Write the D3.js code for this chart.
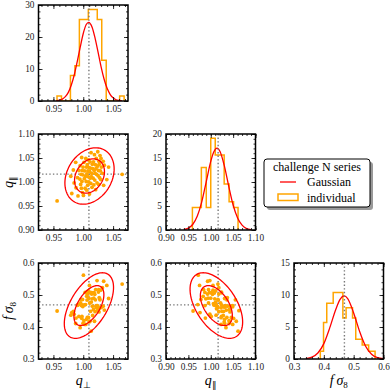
<!DOCTYPE html>
<html>
<head>
<meta charset="utf-8">
<script src="https://cdn.jsdelivr.net/npm/d3@7"></script>
<style>
body { margin: 0; background: #fff; }
text { font-family: "Liberation Serif", serif; }
</style>
</head>
<body>
<div id="chart"></div>
<script>
// ---- data ----
// axis ranges and ticks
const qPerpDomain = [0.925, 1.075];
const qParDomain = [0.90, 1.10];
const fs8Domain = [0.30, 0.60];
const qPerpTicks = [0.95, 1.00, 1.05];
const qParTicks = [0.90, 0.95, 1.00, 1.05, 1.10];
const fs8Ticks = [0.3, 0.4, 0.5, 0.6];
const histPerpTicks = [0, 10, 20, 30];
const histParTicks = [0, 5, 10, 15, 20];
const histFs8Ticks = [0, 5, 10, 15];

// fiducial values (dotted lines)
const fidPerp = 1.0095, fidPar = 1.0165, fidFs8 = 0.469;

// histograms (step, normalised)
const perpEdges = [0.9560, 0.9635, 0.9710, 0.9785, 0.9860, 0.9935, 1.0010, 1.0085, 1.0160, 1.0235, 1.0310, 1.0385, 1.0460, 1.0535, 1.0610, 1.0685];
const perpHist = [1.6, 0, 0, 8.0, 11.0, 25.5, 25.5, 28.6, 28.6, 25.5, 12.7, 0, 0, 0, 1.6];
const parEdges = [0.959, 0.969, 0.979, 0.990, 1.000, 1.010, 1.020, 1.030, 1.041, 1.051, 1.061];
const parHist = [4.7, 4.7, 13.0, 4.7, 19.1, 15.6, 15.6, 9.6, 5.9, 4.7];
const fs8Edges = [0.3882, 0.3990, 0.4098, 0.4206, 0.4314, 0.4422, 0.4530, 0.4638, 0.4746, 0.4854, 0.4962, 0.5070, 0.5178, 0.5286, 0.5394, 0.5502, 0.5610, 0.5718];
const fs8Hist = [1.2, 5.7, 8.7, 8.7, 10.4, 10.4, 10.4, 6.4, 8.0, 8.0, 6.4, 3.1, 3.1, 2.2, 2.2, 1.2, 1.2];

// gaussian curves
const gPerpX = [0.955, 0.960, 0.965, 0.970, 0.975, 0.980, 0.985, 0.990, 0.995, 1.000, 1.005, 1.009, 1.015, 1.020, 1.025, 1.030, 1.035, 1.040, 1.045, 1.050, 1.055, 1.060, 1.065];
const gPerpY = [0.1, 0.26, 0.6, 1.35, 2.7, 5.0, 8.2, 12.4, 16.9, 21.1, 23.9, 24.6, 23.0, 19.5, 15.1, 10.6, 6.8, 3.95, 2.1, 1.0, 0.4, 0.17, 0.06];
const gParX = [0.94, 0.95, 0.96, 0.97, 0.98, 0.99, 1.00, 1.007, 1.014, 1.021, 1.03, 1.04, 1.05, 1.06, 1.07, 1.08, 1.09];
const gParY = [0.11, 0.4, 1.2, 2.9, 5.9, 10.1, 14.3, 16.3, 17.05, 16.3, 13.5, 9.2, 5.2, 2.5, 1.0, 0.3, 0.07];
const gFs8X = [0.34, 0.36, 0.38, 0.40, 0.42, 0.44, 0.455, 0.468, 0.48, 0.50, 0.52, 0.54, 0.56, 0.58, 0.60];
const gFs8Y = [0.07, 0.28, 0.93, 2.4, 4.9, 7.75, 9.36, 9.85, 9.43, 7.2, 4.3, 2.0, 0.75, 0.2, 0.05];

// contour ellipses: centre, widths (sigma), correlation; two contour levels
const contourLevels = [1.52, 2.5];
const ellPerpPar = { cx: 1.0105, cy: 1.0125, sx: 0.0165, sy: 0.0235, rho: 0.25 };
const ellPerpFs8 = { cx: 1.0095, cy: 0.467, sx: 0.0165, sy: 0.041, rho: 0.55 };
const ellParFs8 = { cx: 1.0125, cy: 0.467, sx: 0.0235, sy: 0.041, rho: -0.5 };

// individual realisations
const qPerpPts = [0.9562, 0.9791, 0.9808, 0.9834, 0.9847, 0.9873, 0.9879, 0.9904, 0.9912, 0.9928,
  0.9943, 0.9948, 0.9956, 0.9962, 0.9969, 0.9974, 0.9978, 0.9983, 0.9988, 0.9993,
  0.9997, 1.0003, 1.0012, 1.0018, 1.0024, 1.0031, 1.0038, 1.0043, 1.0049, 1.0053,
  1.0058, 1.0063, 1.0068, 1.0073, 1.0078, 1.0083, 1.0088, 1.0093, 1.0098, 1.0104,
  1.0107, 1.0113, 1.0117, 1.0122, 1.0127, 1.0131, 1.0136, 1.0142, 1.0147, 1.0152,
  1.0158, 1.0166, 1.0171, 1.0177, 1.0182, 1.0188, 1.0193, 1.0198, 1.0203, 1.0208,
  1.0213, 1.0218, 1.0223, 1.0231, 1.0238, 1.0243, 1.0249, 1.0254, 1.0259, 1.0264,
  1.0268, 1.0274, 1.0281, 1.0287, 1.0293, 1.0298, 1.0304, 1.0321, 1.0334, 1.0342,
  1.0353, 1.0395, 1.0425, 1.0652];
const qParPts = [0.9605, 1.012, 0.976, 1.025, 0.998, 1.041, 0.988, 1.009, 0.971, 1.024,
  1.006, 1.034, 0.995, 1.016, 0.987, 1.051, 1.001, 1.024, 0.978, 1.015,
  1.031, 0.972, 1.041, 1.007, 1.023, 0.987, 1.012, 1.049, 1.001, 1.031,
  0.983, 1.017, 1.036, 0.993, 1.023, 1.011, 1.046, 1.000, 1.030, 0.975,
  1.022, 1.042, 1.008, 1.029, 0.997, 1.061, 1.011, 1.018, 0.989, 1.037,
  1.028, 1.008, 1.042, 0.994, 1.024, 1.057, 1.004, 1.018, 1.036, 0.984,
  1.028, 1.049, 1.016, 0.998, 1.033, 1.063, 1.013, 1.024, 0.995, 1.043,
  1.037, 1.009, 1.055, 1.023, 1.005, 1.049, 1.031, 1.018, 1.043, 0.993,
  1.035, 1.005, 1.031, 1.016];
const fs8Pts = [0.450, 0.437, 0.445, 0.449, 0.440, 0.411, 0.428, 0.468, 0.470, 0.433,
  0.473, 0.398, 0.475, 0.486, 0.467, 0.427, 0.433, 0.469, 0.486, 0.464,
  0.412, 0.562, 0.420, 0.469, 0.408, 0.508, 0.470, 0.408, 0.507, 0.424,
  0.496, 0.484, 0.430, 0.503, 0.429, 0.513, 0.430, 0.490, 0.416, 0.530,
  0.475, 0.418, 0.507, 0.449, 0.508, 0.387, 0.478, 0.503, 0.488, 0.465,
  0.436, 0.507, 0.455, 0.490, 0.507, 0.418, 0.502, 0.448, 0.485, 0.517,
  0.464, 0.467, 0.461, 0.545, 0.467, 0.451, 0.457, 0.509, 0.517, 0.447,
  0.492, 0.488, 0.485, 0.460, 0.515, 0.463, 0.462, 0.523, 0.465, 0.543,
  0.453, 0.530, 0.489, 0.534];

const legendTitle = "challenge N series";
const legendLabels = ["Gaussian", "individual"];

// ---- layout ----
const red = "#ff0000", orange = "#ffa500";
const W = 89.5, H = 96;
const colX = [38.5, 166, 294];
const rowY = [5, 134, 263];

const svg = d3.select("#chart").append("svg")
    .attr("width", 390).attr("height", 391);

function minorTicks(dom, step) {
    let out = [];
    let start = Math.ceil(dom[0] / step - 1e-6);
    let end = Math.floor(dom[1] / step + 1e-6);
    for (let i = start; i <= end; i++) out.push(+(i * step).toFixed(5));
    return out;
}

function makePanel(id, c, r, xDom, yDom) {
    let g = svg.append("g").attr("transform", "translate(" + colX[c] + "," + rowY[r] + ")");
    let x = d3.scaleLinear().domain(xDom).range([0, W]);
    let y = d3.scaleLinear().domain(yDom).range([H, 0]);
    g.append("clipPath").attr("id", "clip" + id)
        .append("rect").attr("width", W).attr("height", H);
    let plot = g.append("g").attr("clip-path", "url(#clip" + id + ")");
    return { g: g, plot: plot, x: x, y: y };
}

function finishPanel(p, xTicks, yTicks, xMinor, yMinor, xFmt, yFmt) {
    let g = p.g;
    let tickStyle = function (sel) {
        sel.attr("font-family", "Liberation Serif, serif").attr("font-size", 9.3);
        sel.select(".domain").remove();
        sel.selectAll("line").attr("stroke", "#000").attr("stroke-width", 0.8);
        sel.selectAll("text").attr("fill", "#222");
    };
    // major ticks, labels on bottom/left
    g.append("g").attr("transform", "translate(0," + H + ")")
        .call(d3.axisBottom(p.x).tickValues(xTicks).tickFormat(d3.format(xFmt)).tickSize(-4).tickPadding(4))
        .call(tickStyle);
    g.append("g")
        .call(d3.axisLeft(p.y).tickValues(yTicks).tickFormat(d3.format(yFmt)).tickSize(-4).tickPadding(4))
        .call(tickStyle);
    g.append("g").call(d3.axisTop(p.x).tickValues(xTicks).tickFormat("").tickSize(-4)).call(tickStyle);
    g.append("g").attr("transform", "translate(" + W + ",0)")
        .call(d3.axisRight(p.y).tickValues(yTicks).tickFormat("").tickSize(-4)).call(tickStyle);
    // minor ticks
    let xm = minorTicks(p.x.domain(), xMinor), ym = minorTicks(p.y.domain(), yMinor);
    g.append("g").attr("transform", "translate(0," + H + ")")
        .call(d3.axisBottom(p.x).tickValues(xm).tickFormat("").tickSize(-2)).call(tickStyle);
    g.append("g").call(d3.axisTop(p.x).tickValues(xm).tickFormat("").tickSize(-2)).call(tickStyle);
    g.append("g").call(d3.axisLeft(p.y).tickValues(ym).tickFormat("").tickSize(-2)).call(tickStyle);
    g.append("g").attr("transform", "translate(" + W + ",0)")
        .call(d3.axisRight(p.y).tickValues(ym).tickFormat("").tickSize(-2)).call(tickStyle);
    g.append("rect").attr("width", W).attr("height", H)
        .attr("fill", "none").attr("stroke", "#000").attr("stroke-width", 1.5);
}

function dottedV(p, v) {
    p.plot.append("line").attr("x1", p.x(v)).attr("x2", p.x(v)).attr("y1", 0).attr("y2", H)
        .attr("stroke", "#777").attr("stroke-width", 1.4).attr("stroke-dasharray", "1.4,2.2");
}
function dottedH(p, v) {
    p.plot.append("line").attr("y1", p.y(v)).attr("y2", p.y(v)).attr("x1", 0).attr("x2", W)
        .attr("stroke", "#777").attr("stroke-width", 1.4).attr("stroke-dasharray", "1.4,2.2");
}

function drawHist(p, edges, heights, gx, gy, fid) {
    let pts = [{ x: edges[0], y: 0 }];
    heights.forEach(function (h, i) { pts.push({ x: edges[i], y: h }); });
    pts.push({ x: edges[edges.length - 1], y: 0 });
    let step = d3.line().x(d => p.x(d.x)).y(d => p.y(d.y)).curve(d3.curveStepAfter);
    p.plot.append("path").attr("d", step(pts))
        .attr("fill", "none").attr("stroke", orange).attr("stroke-width", 1.5);
    let curve = d3.line().x(d => p.x(d[0])).y(d => p.y(d[1])).curve(d3.curveMonotoneX);
    p.plot.append("path").attr("d", curve(d3.zip(gx, gy)))
        .attr("fill", "none").attr("stroke", red).attr("stroke-width", 1.3);
    dottedV(p, fid);
}

function drawScatter(p, xs, ys, ell, fx, fy) {
    dottedV(p, fx);
    dottedH(p, fy);
    p.plot.selectAll("circle").data(d3.zip(xs, ys)).enter().append("circle")
        .attr("cx", d => p.x(d[0])).attr("cy", d => p.y(d[1]))
        .attr("r", 1.9).attr("fill", orange);
    let ang = d3.range(0, 2 * Math.PI + 0.001, Math.PI / 60);
    let sq = Math.sqrt(1 - ell.rho * ell.rho);
    contourLevels.forEach(function (k) {
        let ring = ang.map(t => [ell.cx + k * ell.sx * Math.cos(t),
            ell.cy + k * ell.sy * (ell.rho * Math.cos(t) + sq * Math.sin(t))]);
        p.plot.append("path")
            .attr("d", d3.line().x(d => p.x(d[0])).y(d => p.y(d[1]))(ring))
            .attr("fill", "none").attr("stroke", red).attr("stroke-width", 1.3);
    });
}

// row 1: q_perp histogram
let p1 = makePanel(1, 0, 0, qPerpDomain, [0, 30]);
drawHist(p1, perpEdges, perpHist, gPerpX, gPerpY, fidPerp);
finishPanel(p1, qPerpTicks, histPerpTicks, 0.01, 2, ".2f", "d");

// row 2
let p2 = makePanel(2, 0, 1, qPerpDomain, qParDomain);
drawScatter(p2, qPerpPts, qParPts, ellPerpPar, fidPerp, fidPar);
finishPanel(p2, qPerpTicks, qParTicks, 0.01, 0.01, ".2f", ".2f");

let p3 = makePanel(3, 1, 1, qParDomain, [0, 20]);
drawHist(p3, parEdges, parHist, gParX, gParY, fidPar);
finishPanel(p3, qParTicks, histParTicks, 0.01, 1, ".2f", "d");

// row 3
let p4 = makePanel(4, 0, 2, qPerpDomain, fs8Domain);
drawScatter(p4, qPerpPts, fs8Pts, ellPerpFs8, fidPerp, fidFs8);
finishPanel(p4, qPerpTicks, fs8Ticks, 0.01, 0.02, ".2f", ".1f");

let p5 = makePanel(5, 1, 2, qParDomain, fs8Domain);
drawScatter(p5, qParPts, fs8Pts, ellParFs8, fidPar, fidFs8);
finishPanel(p5, qParTicks, fs8Ticks, 0.01, 0.02, ".2f", ".1f");

let p6 = makePanel(6, 2, 2, fs8Domain, [0, 15]);
drawHist(p6, fs8Edges, fs8Hist, gFs8X, gFs8Y, fidFs8);
finishPanel(p6, fs8Ticks, histFs8Ticks, 0.02, 1, ".1f", "d");

// ---- axis labels ----
function qLabel(sel, sub) {
    sel.append("tspan").attr("font-style", "italic").text("q");
    sel.append("tspan").attr("font-size", "9px").attr("dy", 2.5).text(sub);
}
function fs8Label(sel) {
    sel.append("tspan").attr("font-style", "italic").text("f\u2009\u03c3");
    sel.append("tspan").attr("font-size", "9px").attr("dy", 2.5).text("8");
}
svg.append("text").attr("x", colX[0] + W / 2).attr("y", 385).attr("text-anchor", "middle")
    .attr("font-size", "14px").call(qLabel, "\u22a5");
svg.append("text").attr("x", colX[1] + W / 2).attr("y", 385).attr("text-anchor", "middle")
    .attr("font-size", "14px").call(qLabel, "\u2225");
svg.append("text").attr("x", colX[2] + W / 2).attr("y", 385).attr("text-anchor", "middle")
    .attr("font-size", "14px").call(fs8Label);
svg.append("text").attr("transform", "translate(13," + (rowY[1] + H / 2) + ") rotate(-90)")
    .attr("text-anchor", "middle").attr("font-size", "14px").call(qLabel, "\u2225");
svg.append("text").attr("transform", "translate(13," + (rowY[2] + H / 2) + ") rotate(-90)")
    .attr("text-anchor", "middle").attr("font-size", "14px").call(fs8Label);

// ---- legend ----
let lg = svg.append("g").attr("transform", "translate(264,159)");
lg.append("rect").attr("x", 3).attr("y", 3).attr("width", 106).attr("height", 48).attr("rx", 3)
    .attr("fill", "#999");
lg.append("rect").attr("width", 106).attr("height", 48).attr("rx", 3)
    .attr("fill", "#fff").attr("stroke", "#000").attr("stroke-width", 1);
lg.append("text").attr("x", 53).attr("y", 11.5).attr("text-anchor", "middle")
    .attr("font-size", "12px").text(legendTitle);
lg.append("line").attr("x1", 16).attr("x2", 32).attr("y1", 23).attr("y2", 23)
    .attr("stroke", red).attr("stroke-width", 1.3);
lg.append("rect").attr("x", 14).attr("y", 35).attr("width", 20).attr("height", 6.5)
    .attr("fill", "none").attr("stroke", orange).attr("stroke-width", 1.5);
lg.selectAll("text.item").data(legendLabels).enter().append("text").attr("class", "item")
    .attr("x", 43).attr("y", (d, i) => 27 + i * 15.5)
    .attr("font-size", "12px").text(d => d);
</script>
</body>
</html>
